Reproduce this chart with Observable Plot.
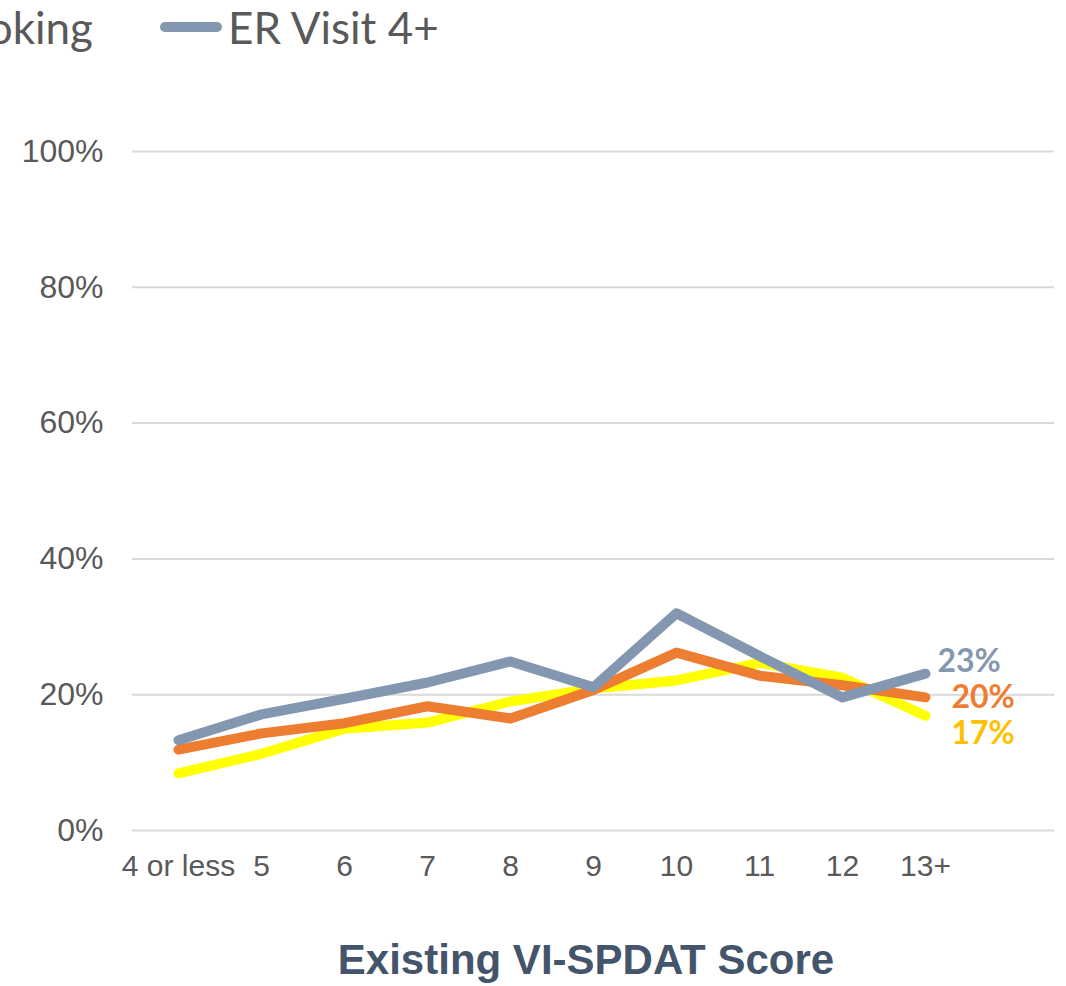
<!DOCTYPE html>
<html>
<head>
<meta charset="utf-8">
<script src="https://cdn.jsdelivr.net/npm/d3@7"></script>
<script src="https://cdn.jsdelivr.net/npm/@observablehq/plot@0.6"></script>
<style>
  html, body { margin: 0; padding: 0; background: #fff; overflow: hidden; }
  #wrap { position: relative; width: 1066px; height: 986px; }
  .leg { position: absolute; top: 2px; font-family: Lato, "Open Sans", sans-serif; font-size: 44px; color: #595959; white-space: nowrap; line-height: 50px; display: flex; align-items: center; }
  .sw { display: inline-block; width: 62px; height: 10px; border-radius: 5px; margin-right: 6px; }
  #title { position: absolute; left: 0; width: 1172px; top: 936px; text-align: center; font-family: "Liberation Sans", Arial, sans-serif; font-weight: bold; font-size: 42px; color: #44546A; }
</style>
</head>
<body>
<div id="wrap">
  <div id="chart"></div>
  <div id="legend"></div>
  <div id="title"></div>
</div>
<script>
// ---- data ----
const categories = ["4 or less", "5", "6", "7", "8", "9", "10", "11", "12", "13+"];
const seriesNames = ["Series 1", "Smoking", "ER Visit 4+"];
const yellowValues = [8.4, 11.3, 15.0, 15.9, 19.0, 20.9, 22.1, 24.7, 22.5, 16.9];
const orangeValues = [11.9, 14.3, 15.8, 18.3, 16.5, 20.7, 26.2, 22.8, 21.4, 19.6];
const grayValues = [13.3, 17.1, 19.4, 21.8, 24.9, 21.1, 32.0, 25.7, 19.6, 23.1];
const yTicks = [0, 20, 40, 60, 80, 100];
const axisTitle = "Existing VI-SPDAT Score";

// ---- styles ----
const lineColors = ["#FFFF00", "#ED7D31", "#8497B0"];
const labelColors = ["#FFC000", "#ED7D31", "#8497B0"];
const labelOffsets = [{dx: 26, dy: 18}, {dx: 26, dy: 0}, {dx: 12, dy: -12}];

const seriesValues = [yellowValues, orangeValues, grayValues];
const rows = seriesValues.map((vals, s) => categories.map((c, i) => ({series: seriesNames[s], cat: c, value: vals[i]})));
const spacer = " ";

const marks = [
  Plot.ruleY(yTicks, {stroke: "#D9D9D9", strokeWidth: 2}),
  Plot.axisY({ticks: yTicks, tickSize: 0, tickPadding: 29, fontSize: 32, fill: "#595959", tickFormat: d => d + "%", label: null}),
  Plot.axisX({tickSize: 0, tickPadding: 24, fontSize: 30, fill: "#595959", label: null, tickFormat: d => d === spacer ? "" : d})
];
rows.forEach((r, s) => {
  marks.push(Plot.lineY(r, {x: "cat", y: "value", stroke: lineColors[s], strokeWidth: 10, strokeLinecap: "round", strokeLinejoin: "round"}));
});
rows.forEach((r, s) => {
  const last = r[r.length - 1];
  marks.push(Plot.text([last], {x: "cat", y: "value", text: d => Math.round(d.value) + "%", textAnchor: "start",
    dx: labelOffsets[s].dx, dy: labelOffsets[s].dy, fill: labelColors[s], fontSize: 32, fontWeight: "bold", fontFamily: "Lato, 'Open Sans', sans-serif"}));
});

const chart = Plot.plot({
  width: 1066,
  height: 986,
  marginTop: 151,
  marginBottom: 156,
  marginLeft: 132,
  marginRight: 12,
  style: {fontFamily: "'Liberation Sans', Arial, sans-serif", background: "#fff", overflow: "visible"},
  x: {type: "point", domain: [...categories, spacer], padding: 0.5},
  y: {domain: [0, 100]},
  marks
});
document.getElementById("chart").appendChild(chart);

// legend (cropped at the left edge as in the reference)
const legend = document.getElementById("legend");
const legItems = [
  {name: seriesNames[1], color: lineColors[1], right: 1066 - 93},
  {name: seriesNames[2], color: lineColors[2], left: 160}
];
legItems.forEach(it => {
  const d = document.createElement("div");
  d.className = "leg";
  if (it.left != null) d.style.left = it.left + "px"; else d.style.right = it.right + "px";
  const sw = document.createElement("span");
  sw.className = "sw";
  sw.style.background = it.color;
  const t = document.createElement("span");
  t.textContent = it.name;
  d.appendChild(sw); d.appendChild(t);
  legend.appendChild(d);
});
document.getElementById("title").textContent = axisTitle;
</script>
</body>
</html>
